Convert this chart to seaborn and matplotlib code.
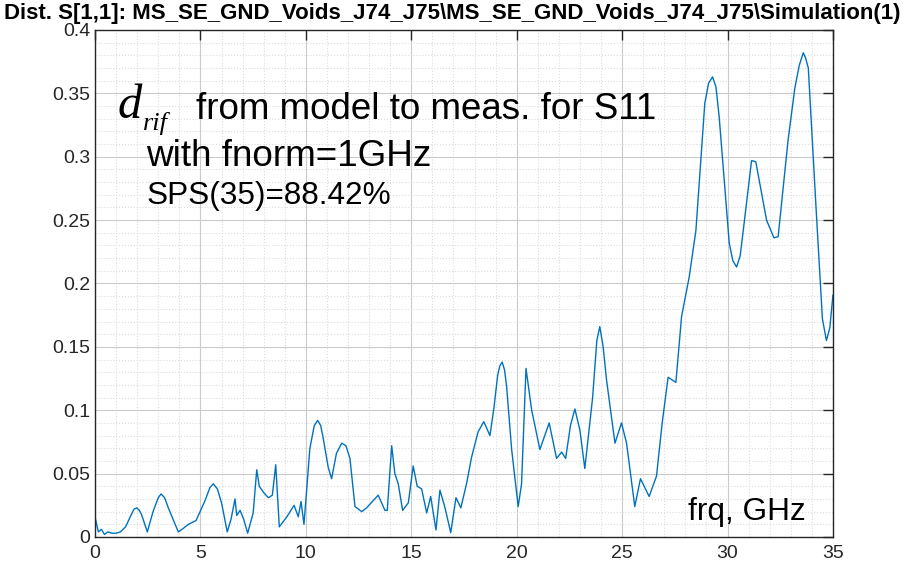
import matplotlib
matplotlib.use("Agg")
import matplotlib.pyplot as plt
from matplotlib.ticker import MultipleLocator
import seaborn as sns
import pandas as pd

# datos (frecuencia en GHz, distancia d_rif)
freq_ghz = [0.0, 0.05, 0.16, 0.3, 0.45, 0.6, 0.8, 1.0, 1.2, 1.45, 1.7, 1.85, 1.98, 2.1, 2.2, 2.48,
            2.75, 3.0, 3.13, 3.3, 3.5, 3.95, 4.2, 4.43, 4.79, 5.2, 5.45, 5.61, 5.8, 6.0, 6.27, 6.45,
            6.64, 6.72, 6.88, 7.05, 7.24, 7.5, 7.67, 7.79, 8.0, 8.22, 8.41, 8.57, 8.74, 9.1, 9.44,
            9.64, 9.77, 9.91, 10.19, 10.4, 10.56, 10.7, 10.8, 11.06, 11.22, 11.45, 11.7, 11.9, 12.09,
            12.33, 12.65, 12.88, 13.43, 13.75, 13.86, 14.07, 14.22, 14.38, 14.59, 14.86, 15.09,
            15.28, 15.49, 15.73, 15.92, 16.17, 16.36, 16.6, 16.87, 17.12, 17.35, 17.62, 17.86,
            18.17, 18.44, 18.73, 18.92, 19.1, 19.2, 19.31, 19.42, 19.52, 19.76, 20.07, 20.23,
            20.44, 20.71, 21.1, 21.54, 21.89, 22.13, 22.32, 22.55, 22.76, 23.0, 23.23, 23.6, 23.8,
            23.94, 24.1, 24.26, 24.66, 24.97, 25.21, 25.6, 25.87, 26.28, 26.63, 26.9, 27.18, 27.55,
            27.82, 28.18, 28.5, 28.92, 29.1, 29.29, 29.45, 29.6, 30.08, 30.25, 30.43, 30.6, 30.71,
            31.14, 31.34, 31.85, 32.2, 32.4, 32.87, 33.19, 33.4, 33.59, 33.7, 33.83, 34.22, 34.5,
            34.69, 34.85, 35.0]
d_rif = [0.016, 0.012, 0.004, 0.006, 0.002, 0.004, 0.003, 0.003, 0.004, 0.008, 0.017, 0.022, 0.023, 0.021, 0.018, 0.004,
         0.020, 0.031, 0.034, 0.031, 0.022, 0.004, 0.007, 0.010, 0.013, 0.028, 0.039, 0.042, 0.038, 0.027, 0.004, 0.014,
         0.030, 0.017, 0.021, 0.014, 0.003, 0.019, 0.053, 0.040, 0.035, 0.031, 0.033, 0.057, 0.008, 0.016, 0.025,
         0.016, 0.028, 0.010, 0.070, 0.088, 0.092, 0.088, 0.080, 0.055, 0.046, 0.066, 0.074, 0.072, 0.062,
         0.024, 0.020, 0.023, 0.033, 0.021, 0.021, 0.072, 0.050, 0.042, 0.021, 0.027, 0.056,
         0.040, 0.038, 0.019, 0.032, 0.0055, 0.037, 0.023, 0.0034, 0.031, 0.023, 0.042, 0.063,
         0.083, 0.091, 0.080, 0.102, 0.128, 0.135, 0.138, 0.132, 0.119, 0.069, 0.024, 0.042,
         0.133, 0.100, 0.069, 0.090, 0.062, 0.067, 0.062, 0.088, 0.101, 0.084, 0.054, 0.110, 0.155,
         0.166, 0.150, 0.124, 0.074, 0.090, 0.074, 0.024, 0.046, 0.032, 0.048, 0.090, 0.126, 0.122,
         0.174, 0.205, 0.242, 0.342, 0.358, 0.363, 0.355, 0.332, 0.232, 0.218, 0.213, 0.222, 0.237,
         0.297, 0.296, 0.250, 0.236, 0.237, 0.313, 0.354, 0.372, 0.382, 0.378, 0.370, 0.253, 0.172,
         0.155, 0.165, 0.191]

titulo = "Dist. S[1,1]: MS_SE_GND_Voids_J74_J75\\MS_SE_GND_Voids_J74_J75\\Simulation(1)"

sns.set_theme(style="whitegrid")
plt.rcParams['font.family'] = ['Liberation Sans', 'DejaVu Sans']

df = pd.DataFrame({'frq': freq_ghz, 'dist': d_rif})

fig = plt.figure(figsize=(9.2, 5.7), dpi=100)
ax = fig.add_axes([0.1033, 0.0579, 0.8021, 0.8895])
sns.lineplot(data=df, x='frq', y='dist', ax=ax, color='#0072BD', linewidth=1.0)

ax.set_xlim(0, 35)
ax.set_ylim(0, 0.4)
ax.xaxis.set_major_locator(MultipleLocator(5))
ax.xaxis.set_minor_locator(MultipleLocator(1))
ax.yaxis.set_major_locator(MultipleLocator(0.05))
ax.yaxis.set_minor_locator(MultipleLocator(0.01))
ax.set_xticks(ax.get_xticks())
ax.set_xticklabels([f"{int(t)}" for t in ax.get_xticks()])
ax.set_yticks(ax.get_yticks())
ax.set_yticklabels([("0" if t == 0 else f"{t:g}") for t in ax.get_yticks()])
ax.set_xlim(0, 35)
ax.set_ylim(0, 0.4)
ax.set_xlabel('')
ax.set_ylabel('')

ax.set_facecolor('white')
ax.grid(True, which='major', color='#cacaca', linestyle='-', linewidth=0.8)
ax.grid(True, which='minor', color='#dcdcdc', linestyle=':', linewidth=0.8)
for s in ax.spines.values():
    s.set_color('#262626')
    s.set_linewidth(1.0)
    s.set_visible(True)
ax.tick_params(which='both', direction='in', top=True, right=True, colors='#262626',
               labelsize=14, labelcolor='#262626')
ax.tick_params(which='major', length=7, width=1)
ax.tick_params(which='minor', length=0)
ax.tick_params(axis='x', pad=6)

# titulo estilo MATLAB (negrita, ajustado al ancho)
fig.text(0.004, 0.967, titulo, fontsize=16, fontweight='bold', ha='left', va='baseline',
         color='black', family=['Liberation Sans', 'DejaVu Sans'])

ax.text(1.09, 0.3306, 'd', fontsize=35, style='italic', color='black',
        family=['Liberation Serif', 'DejaVu Serif'])
ax.text(2.25, 0.321, 'rif', fontsize=19, style='italic', color='black',
        family=['Liberation Serif', 'DejaVu Serif'])
ax.text(4.79, 0.3295, 'from model to meas. for S11', fontsize=26.5, color='black')
ax.text(2.42, 0.2927, 'with fnorm=1GHz', fontsize=26.6, color='black')
ax.text(2.42, 0.2627, 'SPS(35)=88.42%', fontsize=22.7, color='black')
ax.text(28.12, 0.0134, 'frq, GHz', fontsize=22.7, color='black')

plt.savefig('out.png', dpi=100)
plt.close()
